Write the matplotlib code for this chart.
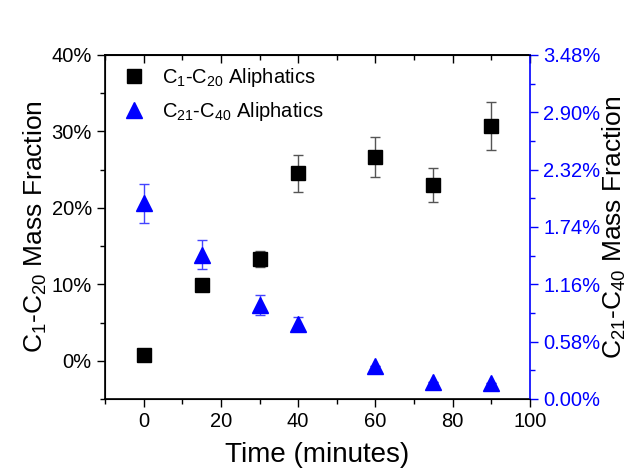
import matplotlib
matplotlib.use("Agg")
import matplotlib.pyplot as plt
from matplotlib.lines import Line2D
from matplotlib.ticker import FuncFormatter, MultipleLocator, NullFormatter

plt.rcParams["font.family"] = ["Liberation Sans", "DejaVu Sans"]
plt.rcParams["mathtext.default"] = "regular"

# data
time_min = [0, 15, 30, 40, 60, 75, 90]
c1_c20 = [0.7, 9.9, 13.3, 24.5, 26.7, 23.0, 30.7]
c1_c20_err = [0.0, 0.4, 1.0, 2.4, 2.6, 2.2, 3.1]
c21_c40 = [1.98, 1.46, 0.95, 0.76, 0.33, 0.17, 0.16]
c21_c40_err = [0.20, 0.145, 0.10, 0.07, 0.0, 0.0, 0.0]

fig = plt.figure(figsize=(6.42, 4.75), dpi=100)
ax = fig.add_axes([105 / 642, 76 / 475, 425 / 642, 344 / 475])
ax2 = ax.twinx()

ax.errorbar(time_min, c1_c20, yerr=c1_c20_err, fmt="s", color="black",
            ecolor="#555555", elinewidth=1, capsize=3.5, markersize=10.5)
ax2.errorbar(time_min, c21_c40, yerr=c21_c40_err, fmt="^", color="blue",
             ecolor="#4444ff", elinewidth=1, capsize=3.5, markersize=12)

ax.set_xlim(-10, 100)
ax.set_ylim(-5, 40)
ax2.set_ylim(0, 3.48)

ax.xaxis.set_major_locator(MultipleLocator(20))
ax.xaxis.set_minor_locator(MultipleLocator(10))
ax.yaxis.set_major_locator(MultipleLocator(10))
ax.yaxis.set_minor_locator(MultipleLocator(5))
ax.yaxis.set_major_formatter(FuncFormatter(lambda v, p: f"{v:.0f}%"))
ax2.yaxis.set_major_locator(MultipleLocator(0.58))
ax2.yaxis.set_minor_locator(MultipleLocator(0.29))
ax2.yaxis.set_major_formatter(FuncFormatter(lambda v, p: f"{v:.2f}%"))

ax.tick_params(axis="both", which="both", direction="out", labelsize=14.5, width=1)
ax.tick_params(which="major", length=6)
ax.tick_params(which="minor", length=3.5)

# top ticks point inward
top = ax.secondary_xaxis("top")
top.xaxis.set_major_locator(MultipleLocator(20))
top.xaxis.set_minor_locator(MultipleLocator(10))
top.xaxis.set_major_formatter(NullFormatter())
top.tick_params(which="both", direction="in", width=1)
top.tick_params(which="major", length=6)
top.tick_params(which="minor", length=3.5)
top.spines["top"].set_linewidth(1.2)

ax2.tick_params(axis="y", which="both", colors="blue", labelsize=14.5, width=1)
ax2.tick_params(axis="y", which="major", length=6)
ax2.tick_params(axis="y", which="minor", length=3.5)
ax2.spines["right"].set_color("blue")
ax.spines["right"].set_visible(False)
for s in ax.spines.values():
    s.set_linewidth(1.2)
ax2.spines["right"].set_linewidth(1.2)

ax.set_xlabel("Time (minutes)", fontsize=20, labelpad=8)
ax.set_ylabel("C$_1$-C$_{20}$ Mass Fraction", fontsize=19, labelpad=2)
ax2.set_ylabel("C$_{21}$-C$_{40}$ Mass Fraction", fontsize=19, labelpad=0)

handles = [
    Line2D([], [], marker="s", color="black", linestyle="none", markersize=10.5),
    Line2D([], [], marker="^", color="blue", linestyle="none", markersize=12),
]
labels = ["C$_1$-C$_{20}$ Aliphatics", "C$_{21}$-C$_{40}$ Aliphatics"]
ax2.legend(handles, labels, loc="upper left", frameon=False, fontsize=14.5,
           handletextpad=0.5, borderaxespad=0.15, labelspacing=0.55,
           handlelength=1.8)

fig.savefig("out.png", dpi=100)
